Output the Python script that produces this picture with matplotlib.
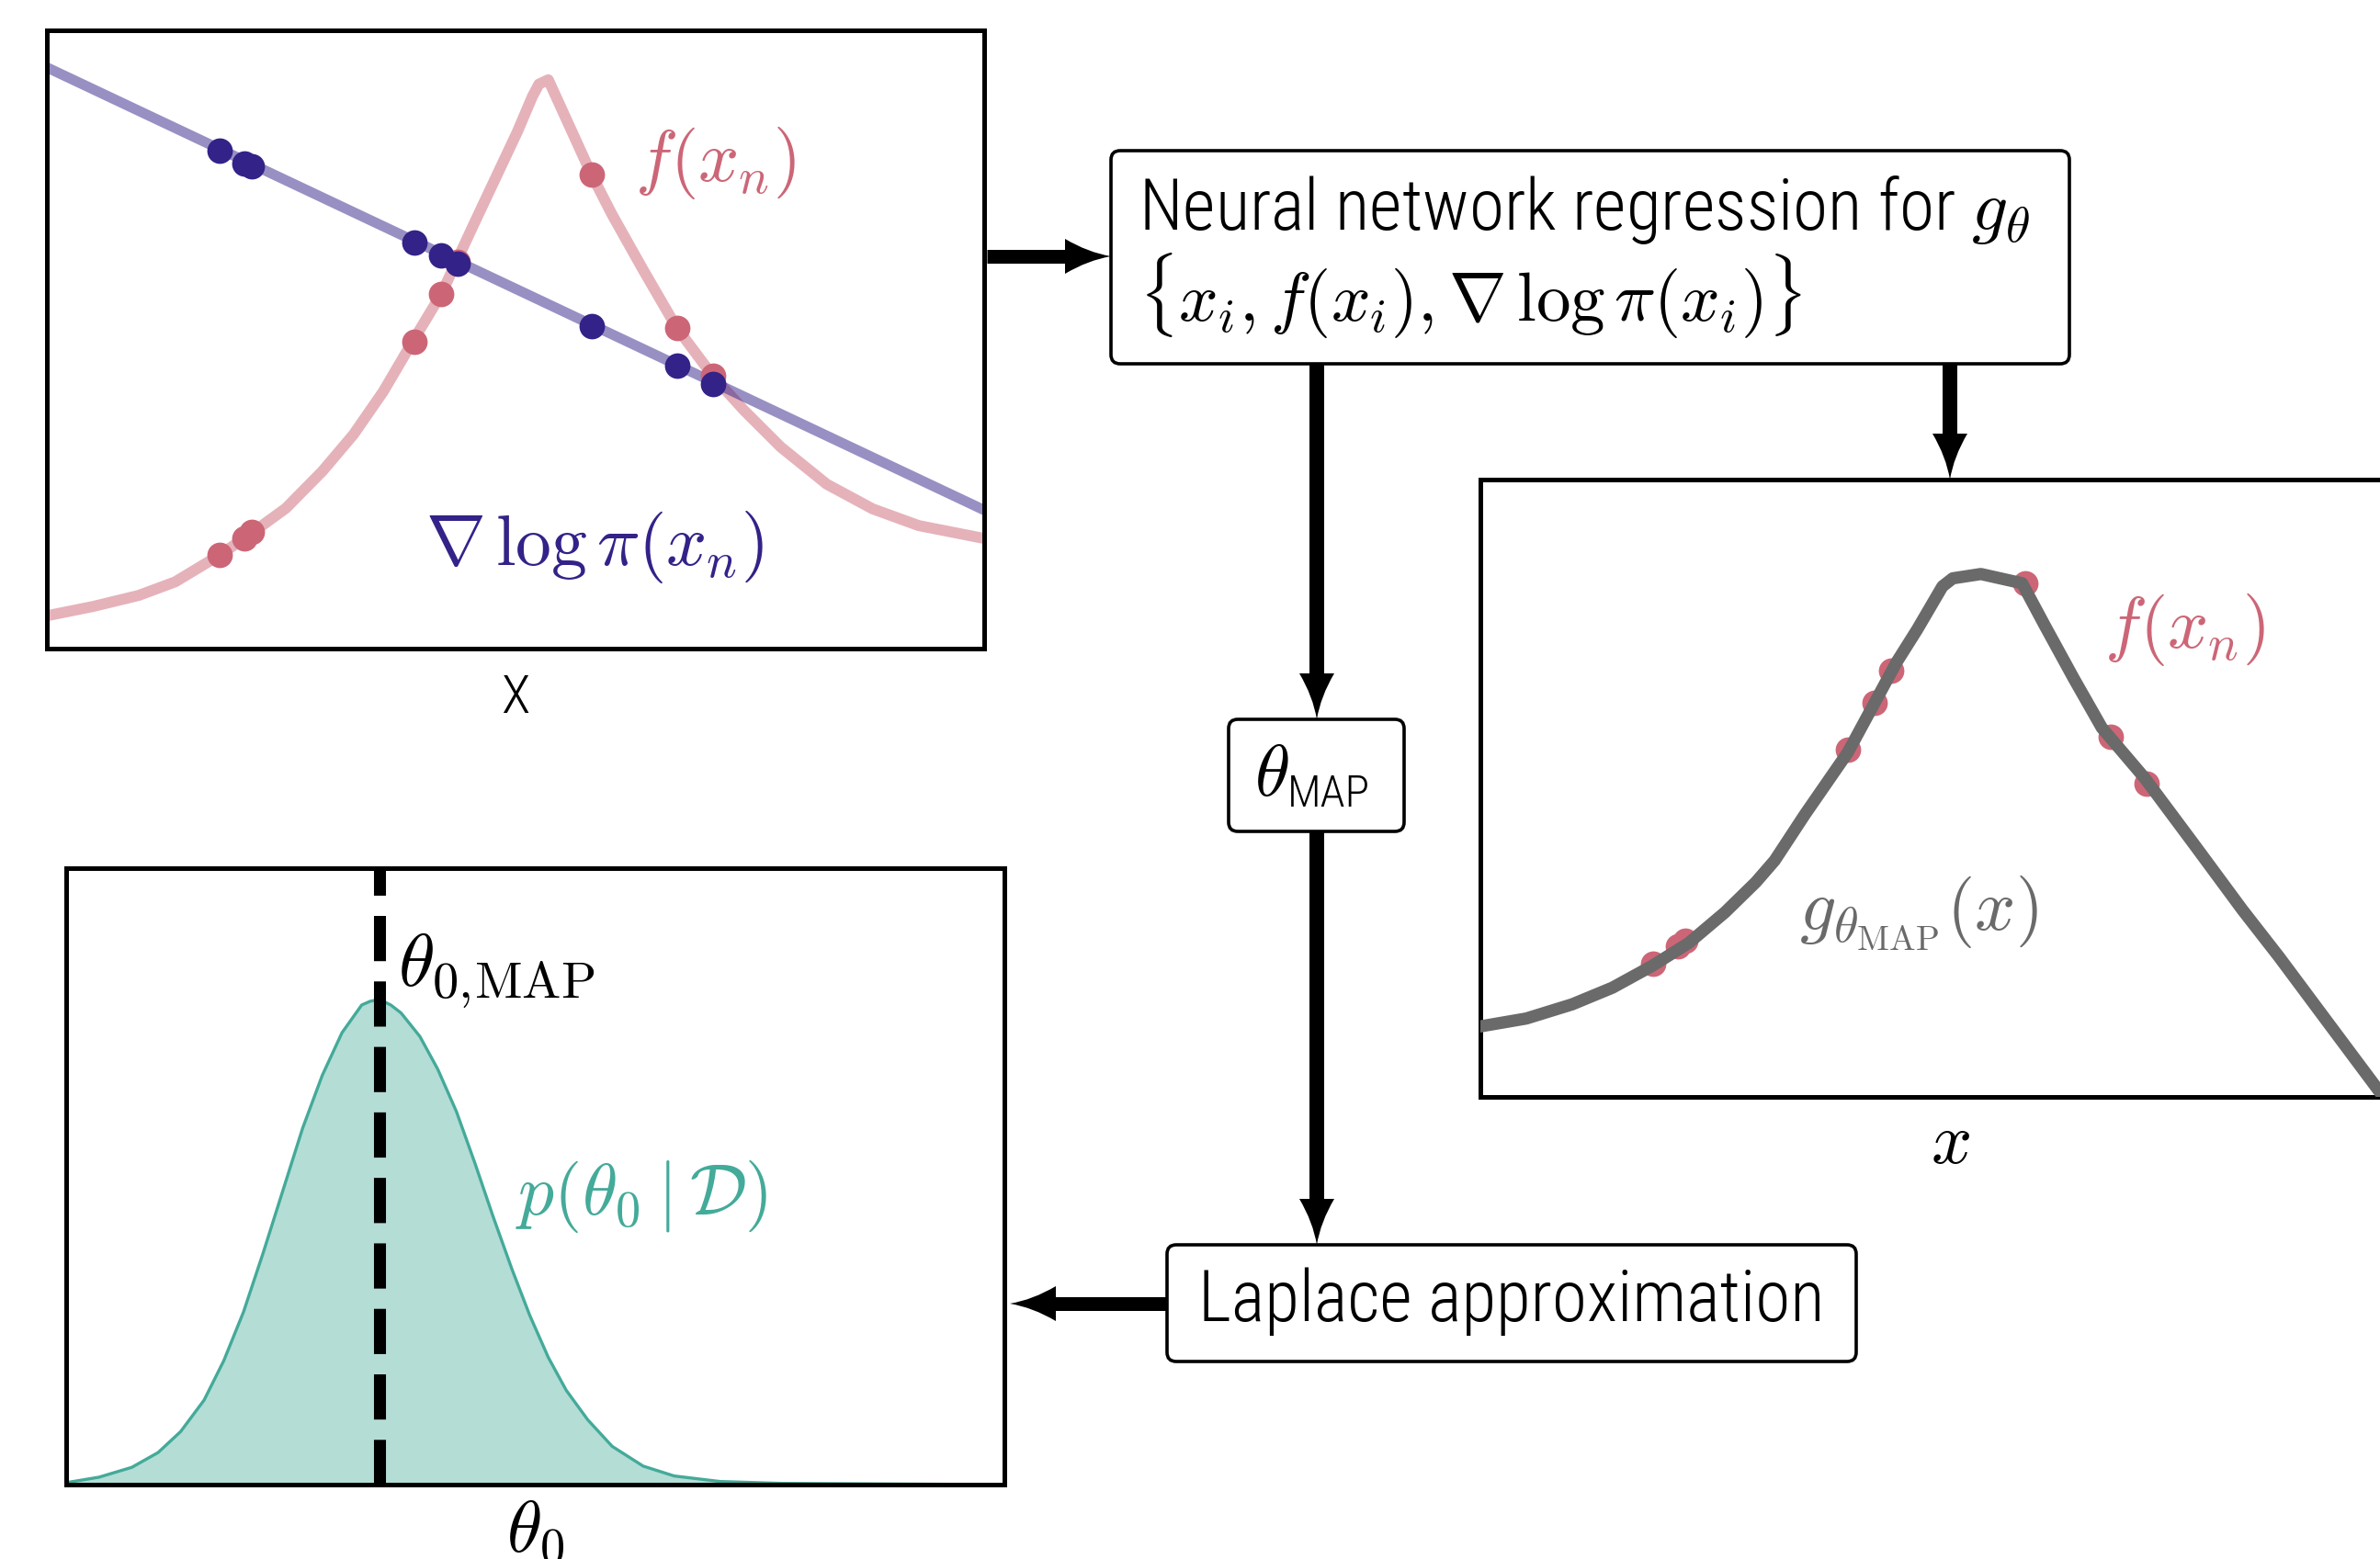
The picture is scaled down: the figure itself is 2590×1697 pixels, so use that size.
import numpy as np
import matplotlib
matplotlib.use('Agg')
import matplotlib.pyplot as plt
from matplotlib import font_manager
from matplotlib.patches import FancyBboxPatch, PathPatch
from matplotlib.path import Path

# samples x_n shared by the two upper panels
x_n = [0.184, 0.2106, 0.219, 0.392, 0.421, 0.438, 0.581, 0.673, 0.711]
f_n = [0.151, 0.179, 0.188, 0.497, 0.574, 0.626, 0.767, 0.519, 0.442]
grad_n = [0.805, 0.785, 0.780, 0.657, 0.636, 0.623, 0.522, 0.457, 0.428]

# target function f(x)
f_x = [0.003, 0.049, 0.098, 0.137, 0.184, 0.216, 0.255, 0.294, 0.327, 0.359, 0.390,
       0.421, 0.437, 0.456, 0.479, 0.502, 0.518, 0.525, 0.535, 0.581, 0.603, 0.636,
       0.672, 0.711, 0.744, 0.783, 0.832, 0.881, 0.930, 0.997]
f_y = [0.054, 0.068, 0.086, 0.108, 0.151, 0.184, 0.227, 0.287, 0.346, 0.416, 0.496,
       0.574, 0.626, 0.688, 0.762, 0.836, 0.893, 0.913, 0.920, 0.767, 0.702, 0.613,
       0.519, 0.440, 0.385, 0.326, 0.266, 0.226, 0.199, 0.179]

# gradient of log pi (straight line)
grad_x = [0.0, 1.0]
grad_y = [0.940, 0.224]

# network fit g_theta_MAP(x)
g_x = [0.003, 0.049, 0.098, 0.141, 0.183, 0.222, 0.261, 0.294, 0.314, 0.346, 0.392,
       0.418, 0.444, 0.466, 0.493, 0.504, 0.534, 0.578, 0.602, 0.633, 0.663, 0.709,
       0.761, 0.813, 0.852, 0.904, 0.962]
g_y = [0.050, 0.062, 0.085, 0.112, 0.147, 0.184, 0.234, 0.283, 0.318, 0.392, 0.493,
       0.566, 0.639, 0.692, 0.762, 0.775, 0.782, 0.767, 0.699, 0.613, 0.533, 0.451,
       0.345, 0.238, 0.162, 0.056, -0.062]

# Laplace posterior p(theta_0 | D)
post_x = [0.0035, 0.035, 0.070, 0.098, 0.122, 0.147, 0.168, 0.189, 0.210, 0.231,
          0.252, 0.273, 0.294, 0.315, 0.324, 0.334, 0.346, 0.357, 0.377, 0.396,
          0.416, 0.436, 0.455, 0.475, 0.494, 0.514, 0.533, 0.556, 0.582, 0.615,
          0.648, 0.697, 0.762, 1.0]
post_y = [0.004, 0.012, 0.028, 0.052, 0.086, 0.137, 0.201, 0.280, 0.376, 0.477,
          0.578, 0.664, 0.733, 0.778, 0.784, 0.787, 0.778, 0.765, 0.727, 0.674,
          0.605, 0.520, 0.435, 0.350, 0.275, 0.206, 0.153, 0.105, 0.062, 0.030,
          0.014, 0.005, 0.002, 0.0]
theta_map = 0.334

ROSE = '#CC6677'
INDIGO = '#332288'
TEAL = '#44AA99'
GREY = '#6a6a6a'

W, H = 2590, 1697
DPI = 200

names = {f.name for f in font_manager.fontManager.ttflist}
SANS = 'Roboto Condensed' if 'Roboto Condensed' in names else 'Roboto'
plt.rcParams['font.family'] = [SANS, 'DejaVu Sans']
plt.rcParams['mathtext.fontset'] = 'cm'

fig = plt.figure(figsize=(W / DPI, H / DPI), dpi=DPI)
fig.patch.set_facecolor('white')


def rect(x0, y0, x1, y1):
    return [x0 / W, 1 - y1 / H, (x1 - x0) / W, (y1 - y0) / H]


def panel(box, ylim):
    ax = fig.add_axes(rect(*box))
    ax.set_xticks([])
    ax.set_yticks([])
    for s in ax.spines.values():
        s.set_linewidth(1.8)
    ax.set_xlim(0, 1)
    ax.set_ylim(*ylim)
    return ax


# top-left: samples of f and grad log pi
ax1 = panel((51, 33, 1071, 706), (0, 1))
ax1.plot(f_x, f_y, color=ROSE, alpha=0.5, lw=4.3, solid_joinstyle='round')
ax1.plot(grad_x, grad_y, color=INDIGO, alpha=0.5, lw=4.0)
ax1.scatter(x_n, f_n, s=100, color=ROSE, lw=0, zorder=3)
ax1.scatter(x_n, grad_n, s=100, color=INDIGO, lw=0, zorder=4)

# right: network fit
ax2 = panel((1611, 522, 2631, 1194), (-0.065, 0.935))
ax2.scatter(x_n, f_n, s=100, color=ROSE, lw=0, zorder=2)
ax2.plot(g_x, g_y, color=GREY, lw=4.8, zorder=3, solid_joinstyle='round')

# bottom-left: posterior
ax3 = panel((72, 945, 1093, 1616), (0, 1))
ax3.fill_between(post_x, post_y, color=TEAL, alpha=0.4, lw=0)
ax3.plot(post_x, post_y, color=TEAL, lw=1.2, solid_joinstyle='round')
ax3.axvline(theta_map, color='black', lw=4.7, linestyle=(0, (3.77, 1.69)))

# overlay in pixel coordinates for boxes, arrows and labels
ov = fig.add_axes([0, 0, 1, 1], zorder=10)
ov.set_xlim(0, W)
ov.set_ylim(H, 0)
ov.axis('off')
ov.patch.set_alpha(0)


def box(x0, y0, x1, y1):
    ov.add_patch(FancyBboxPatch((x0, y0), x1 - x0, y1 - y0,
                                boxstyle='round,pad=0,rounding_size=10',
                                fc='white', ec='black', lw=1.3))


def arrow(x0, y0, x1, y1, L=50, hw=19, shaft=15):
    d = np.array([x1 - x0, y1 - y0], float)
    d /= np.hypot(*d)
    p = np.array([-d[1], d[0]])
    tip = np.array([x1, y1], float)
    back = tip - L * d
    end = tip - 0.8 * L * d
    ov.plot([x0, end[0]], [y0, end[1]], color='black', lw=shaft * 72 / DPI,
            solid_capstyle='butt')
    c1 = tip - 0.5 * L * d + 0.22 * hw * p
    c2 = tip - 0.5 * L * d - 0.22 * hw * p
    verts = [tip, c1, back + hw * p, back - hw * p, c2, tip, tip]
    codes = [Path.MOVETO, Path.CURVE3, Path.CURVE3, Path.LINETO,
             Path.CURVE3, Path.CURVE3, Path.CLOSEPOLY]
    ov.add_patch(PathPatch(Path(verts, codes), fc='black', ec='none'))


box(1209, 164, 2252, 396)
box(1337, 783, 1528, 905)
box(1270, 1355, 2020, 1482)

arrow(1074, 279, 1209, 279)
arrow(1433, 396, 1433, 783, shaft=16)
arrow(2122, 396, 2122, 522, shaft=16)
arrow(1433, 905, 1433, 1355, shaft=16)
arrow(1270, 1419, 1099, 1419)

t1 = ov.text(1239, 250, r'Neural network regression for $g_\theta$', fontsize=27.8,
             fontweight='light', ha='left', va='baseline')
ov.text(1239, 349, r'$\{x_i, f(x_i), \nabla\,\log\pi(x_i)\}$', fontsize=27,
        ha='left', va='baseline')
t2 = ov.text(1645, 1438, 'Laplace approximation', fontsize=27.8, fontweight='light',
             ha='center', va='baseline')
ov.text(1365, 866, r'$\theta$', fontsize=28, ha='left', va='baseline')
t3 = ov.text(1401, 878, 'MAP', fontsize=17.7, fontweight='light', ha='left', va='baseline')
ov.text(561, 776, 'X', fontsize=21, fontweight='light', ha='center', va='baseline')

ov.text(691, 197, r'$f(x_n)$', fontsize=28, color=ROSE, ha='left', va='baseline')
ov.text(463, 615, r'$\nabla\,\log\pi(x_n)$', fontsize=28, color=INDIGO,
        ha='left', va='baseline')
ov.text(2290, 705, r'$f(x_n)$', fontsize=28, color=ROSE, ha='left', va='baseline')
ov.text(1958, 1013, r'$g_{\theta_{\mathrm{MAP}}}(x)$', fontsize=28, color=GREY,
        ha='left', va='baseline')
ov.text(2122, 1266, r'$x$', fontsize=28, ha='center', va='baseline')
ov.text(433, 1073, r'$\theta_{0,\!\mathrm{MAP}}$', fontsize=29, ha='left', va='baseline')
ov.text(561, 1322, r'$p(\theta_0\mid\mathcal{D})$', fontsize=28, color=TEAL,
        ha='left', va='baseline')
ov.text(583, 1689, r'$\theta_0$', fontsize=28, ha='center', va='baseline')

# shrink the sans labels to the widths they take in the reference
fig.canvas.draw()
r = fig.canvas.get_renderer()
for t, target in [(t1, 987), (t2, 691), (t3, 99)]:
    w = t.get_window_extent(r).width
    t.set_fontsize(t.get_fontsize() * min(1.0, target / w))

fig.savefig('out.png', dpi=DPI, facecolor='white')
